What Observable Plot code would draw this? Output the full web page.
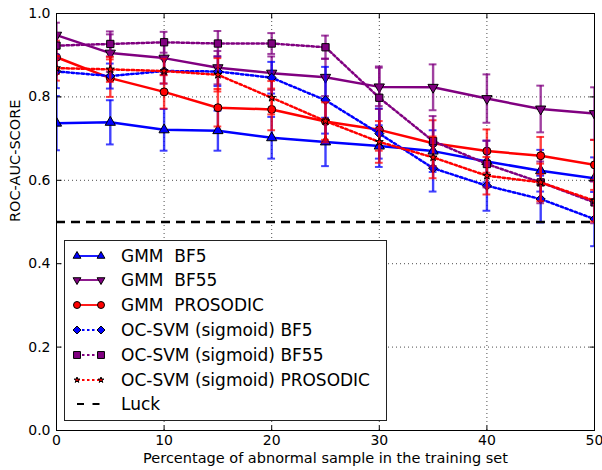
<!DOCTYPE html>
<html><head><meta charset="utf-8">
<script src="https://cdn.jsdelivr.net/npm/d3@7"></script>
<script src="https://cdn.jsdelivr.net/npm/@observablehq/plot@0.6"></script>
<style>
body{margin:0;background:#fff;}
#wrap{position:relative;width:602px;height:470px;font-family:"DejaVu Sans",sans-serif;}
#legend{position:absolute;left:64px;top:240px;width:323px;height:181px;border:1px solid #222;background:#fff;box-sizing:border-box;}
#legend span{position:absolute;left:56px;top:0;line-height:24px;font-size:17px;white-space:pre;color:#000;}
</style></head><body><div id="wrap"></div>
<script>
// ---- data ----
const xPct = [0,5,10,15,20,25,30,35,40,45,50];
const gmmBF5      = [0.737,0.739,0.721,0.719,0.702,0.692,0.682,0.670,0.645,0.623,0.605];
const gmmBF5Err   = [0.065,0.053,0.050,0.048,0.050,0.058,0.050,0.050,0.050,0.050,0.050];
const gmmBF55     = [0.948,0.905,0.893,0.870,0.857,0.847,0.824,0.823,0.796,0.771,0.760];
const gmmBF55Err  = [0.030,0.045,0.040,0.040,0.040,0.045,0.046,0.055,0.058,0.056,0.063];
const gmmPros     = [0.895,0.845,0.812,0.774,0.770,0.741,0.721,0.689,0.670,0.659,0.637];
const gmmProsErr  = [0.040,0.045,0.040,0.045,0.050,0.050,0.050,0.055,0.052,0.045,0.060];
const ocBF5       = [0.861,0.850,0.862,0.861,0.846,0.792,0.712,0.629,0.587,0.555,0.507];
const ocBF5Err    = [0.040,0.030,0.030,0.035,0.038,0.080,0.060,0.056,0.060,0.056,0.065];
const ocBF55      = [0.923,0.927,0.931,0.928,0.928,0.919,0.798,0.694,0.639,0.595,0.547];
const ocBF55Err   = [0.030,0.030,0.025,0.030,0.025,0.028,0.075,0.060,0.056,0.050,0.050];
const ocPros      = [0.869,0.866,0.862,0.853,0.798,0.742,0.692,0.655,0.611,0.595,0.551];
const ocProsErr   = [0.030,0.030,0.030,0.040,0.040,0.045,0.050,0.050,0.045,0.045,0.050];
const seriesNames = ["GMM  BF5","GMM  BF55","GMM  PROSODIC","OC-SVM (sigmoid) BF5","OC-SVM (sigmoid) BF55","OC-SVM (sigmoid) PROSODIC"];
const luckName = "Luck";
const luckLevel = [0.5];
const xTicks = [0,10,20,30,40,50];
const yTicks = [0,0.2,0.4,0.6,0.8,1.0];
const xLabel = "Percentage of abnormal sample in the training set";
const yLabel = "ROC-AUC-SCORE";

// ---- styles ----
const values = [gmmBF5,gmmBF55,gmmPros,ocBF5,ocBF55,ocPros];
const errors = [gmmBF5Err,gmmBF55Err,gmmProsErr,ocBF5Err,ocBF55Err,ocProsErr];
const styles = [
  {color:"#0000ff", dash:null,      symbol:"triangle", d3sym:d3.symbolTriangle, rotate:0,   r:3.8, lr:2.9},
  {color:"#800080", dash:null,      symbol:"triangle", d3sym:d3.symbolTriangle, rotate:180, r:3.8, lr:2.9},
  {color:"#ff0000", dash:null,      symbol:"circle",   d3sym:d3.symbolCircle,   rotate:0,   r:4,   lr:3.5},
  {color:"#0000ff", dash:"2.5,2.5", symbol:"diamond2", d3sym:d3.symbolDiamond2, rotate:0,   r:4.1, lr:3.6},
  {color:"#800080", dash:"2.5,2.5", symbol:"square",   d3sym:d3.symbolSquare,   rotate:0,   r:4.1, lr:3.9},
  {color:"#ff0000", dash:"2.5,2.5", symbol:"star",     d3sym:d3.symbolStar,     rotate:0,   r:2.5, lr:1.8}
];
const capHalf = 0.36;

const rows = seriesNames.map((name,i)=>xPct.map((x,j)=>({
  series:name, x, y:values[i][j], lo:values[i][j]-errors[i][j], hi:values[i][j]+errors[i][j]
})));

const tickSym = (dx,dy)=>({draw(ctx){ctx.moveTo(0,0);ctx.lineTo(dx,dy);}});

const marks = [
  Plot.gridX(xTicks,{stroke:"black",strokeOpacity:0.7,strokeDasharray:"1,3",strokeWidth:1}),
  Plot.gridY(yTicks,{stroke:"black",strokeOpacity:0.7,strokeDasharray:"1,3",strokeWidth:1})
];
rows.forEach((data,i)=>{
  const s = styles[i];
  marks.push(
    Plot.ruleX(data,{x:"x",y1:"lo",y2:"hi",stroke:s.color,strokeWidth:2.4,strokeOpacity:0.75,clip:true}),
    Plot.ruleY(data,{y:"lo",x1:d=>d.x-capHalf,x2:d=>d.x+capHalf,stroke:s.color,strokeWidth:2,strokeOpacity:0.75,clip:true}),
    Plot.ruleY(data,{y:"hi",x1:d=>d.x-capHalf,x2:d=>d.x+capHalf,stroke:s.color,strokeWidth:2,strokeOpacity:0.75,clip:true}),
    Plot.line(data,{x:"x",y:"y",stroke:s.color,strokeWidth:2.5,strokeDasharray:s.dash,clip:true}),
    Plot.dot(data,{x:"x",y:"y",symbol:s.symbol,r:s.r,rotate:s.rotate,fill:s.color,stroke:"black",strokeWidth:1,clip:true})
  );
});
marks.push(
  Plot.ruleY(luckLevel,{stroke:"black",strokeWidth:2.5,strokeDasharray:"9,6"}),
  Plot.frame({stroke:"black",strokeWidth:1}),
  Plot.dot(xTicks,{x:d=>d,frameAnchor:"bottom",symbol:tickSym(0,-5),stroke:"black",fill:"none",strokeWidth:1}),
  Plot.dot(xTicks,{x:d=>d,frameAnchor:"top",symbol:tickSym(0,5),stroke:"black",fill:"none",strokeWidth:1}),
  Plot.dot(yTicks,{y:d=>d,frameAnchor:"left",symbol:tickSym(5,0),stroke:"black",fill:"none",strokeWidth:1}),
  Plot.dot(yTicks,{y:d=>d,frameAnchor:"right",symbol:tickSym(-5,0),stroke:"black",fill:"none",strokeWidth:1}),
  Plot.axisX({ticks:xTicks,tickSize:0,tickPadding:5,label:null,fontSize:14,tickFormat:d3.format("d")}),
  Plot.axisY({ticks:yTicks,tickSize:0,tickPadding:6,label:null,fontSize:14,tickFormat:d3.format(".1f")}),
  Plot.text([xLabel],{text:d=>d,frameAnchor:"bottom",dy:32,fontSize:14.5,fill:"black"}),
  Plot.text([yLabel],{text:d=>d,frameAnchor:"left",rotate:-90,dx:-41,fontSize:14.5,fill:"black"})
);

const chart = Plot.plot({
  width:602, height:470,
  marginLeft:56, marginRight:8, marginTop:13, marginBottom:40,
  x:{domain:[0,50]},
  y:{domain:[0,1]},
  style:{fontFamily:"DejaVu Sans",fontSize:"14px",background:"#fff",color:"black"},
  marks
});
const wrap = document.getElementById("wrap");
wrap.appendChild(chart);

// ---- legend ----
const legend = d3.select(wrap).append("div").attr("id","legend");
const entries = seriesNames.map((n,i)=>({name:n,s:styles[i]})).concat([{name:luckName,luck:true}]);
const rowTop = 15.5, rowStep = 24.8;
entries.forEach((e,i)=>{
  const row = legend.append("div").style("position","absolute").style("left","0px")
    .style("top",(rowTop+i*rowStep-12-1)+"px").style("width","100%").style("height","24px");
  const svg = row.append("svg").attr("width",50).attr("height",24)
    .style("position","absolute").style("left","0px").style("top","0px");
  if (e.luck) {
    svg.append("line").attr("x1",12).attr("x2",35).attr("y1",12).attr("y2",12)
      .attr("stroke","black").attr("stroke-width",2.2).attr("stroke-dasharray","7,8.5");
  } else {
    const s = e.s;
    svg.append("line").attr("x1",12).attr("x2",36).attr("y1",12).attr("y2",12)
      .attr("stroke",s.color).attr("stroke-width",1.8).attr("stroke-dasharray",s.dash);
    const path = d3.symbol().type(s.d3sym).size(Math.PI*s.lr*s.lr)();
    [12,36].forEach(cx=>{
      svg.append("path").attr("d",path).attr("transform",`translate(${cx},12) rotate(${s.rotate})`)
        .attr("fill",s.color).attr("stroke","black").attr("stroke-width",1);
    });
  }
  row.append("span").text(e.name);
});
</script>
</body></html>
